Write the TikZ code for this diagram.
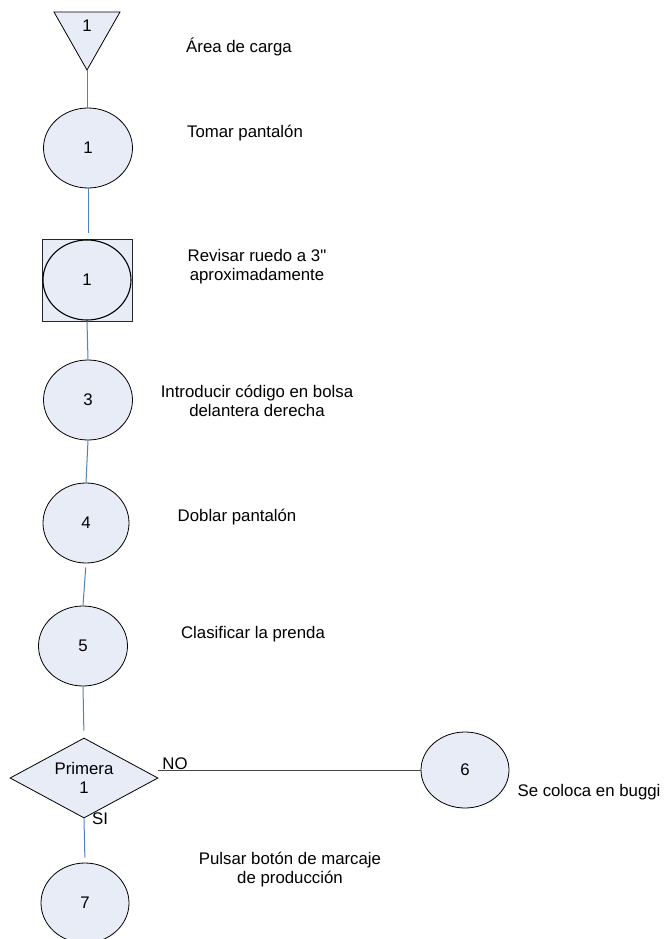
\documentclass[tikz,border=0pt]{standalone}
\usepackage{fontspec}
\setmainfont{Liberation Sans}[Ligatures=TeXOff]
\usetikzlibrary{shapes.geometric}
\definecolor{procfill}{RGB}{231,236,247}
\definecolor{linkblue}{RGB}{79,129,189}
\definecolor{branchgray}{RGB}{70,70,70}
\begin{document}
\begin{tikzpicture}[x=1pt,y=-1pt,
  every node/.style={font=\fontsize{16.8}{19}\selectfont, inner sep=0pt},
  opnode/.style={ellipse, draw=black, line width=0.8pt, fill=procfill,
    minimum width=89pt, minimum height=80pt},
  link/.style={draw=linkblue, line width=1pt},
  branch/.style={draw=branchgray, line width=1pt},
  caption/.style={align=center}]
\clip (0,0) rectangle (666,939);
\fill[white] (0,0) rectangle (666,939);

% storage triangle
\coordinate (tl) at (54,12);
\coordinate (tr) at (120,12);
\coordinate (apex) at (87,70);
\draw[fill=procfill, line width=0.8pt] (tl) -- (tr) -- (apex) -- cycle;
\node (n0) at (87,26) {1};

% operations
\node[opnode] (c1) at (88,148) {1};
\node[draw=black!85, line width=0.8pt, fill=procfill,
  minimum width=90pt, minimum height=82pt] (sq) at (87,280) {};
\node[opnode, minimum width=88pt, line width=1.1pt] (c2) at (87,280) {1};
\node[opnode] (c3) at (88,400) {3};
\node[opnode, minimum width=86pt] (c4) at (86,523) {4};
\node[opnode] (c5) at (83,646) {5};

% decision
\node[diamond, draw=black, line width=0.8pt, fill=procfill,
  minimum width=148pt, minimum height=80pt] (d) at (84,778) {};
\node[align=center] (dl) at (84,778) {Primera\\1};

\node[opnode, minimum width=88pt, minimum height=76pt] (c6) at (465,770) {6};
\node[opnode, minimum width=88pt] (c7) at (85,903) {7};

% connectors
\draw[link] (apex) -- (apex |- c1.north);
\draw[link, shorten >=6pt] (c1.south) -- (c1.south |- sq.north);
\draw[link] (sq.south) -- (c3.north);
\draw[link] (c3.south) -- (c4.north);
\draw[link, shorten <=4pt] (c4.south) -- (c5.north);
\draw[link, shorten >=7pt] (c5.south) -- (d.north);
\draw[link, shorten >=5pt] (d.south) -- (c7.north);
\draw[branch] (d.east |- c6.west) -- (c6.west);

% branch labels
\node (no) at (175,764) {NO};
\node (si) at (100,819) {SI};

% step descriptions
\node[caption] (t0) at (239,47) {Área de carga};
\node[caption] (t1) at (245,133) {Tomar pantalón};
\node[caption] (t2) at (257,267) {Revisar ruedo a 3"\\aproximadamente};
\node[caption] (t3) at (257,401) {Introducir código en bolsa\\delantera derecha};
\node[caption] (t4) at (237,517) {Doblar pantalón};
\node[caption] (t5) at (253,634) {Clasificar la prenda};
\node[caption] (t6) at (589,792) {Se coloca en buggi};
\node[caption] (t7) at (290,870) {Pulsar botón de marcaje\\de producción};
\end{tikzpicture}
\end{document}
